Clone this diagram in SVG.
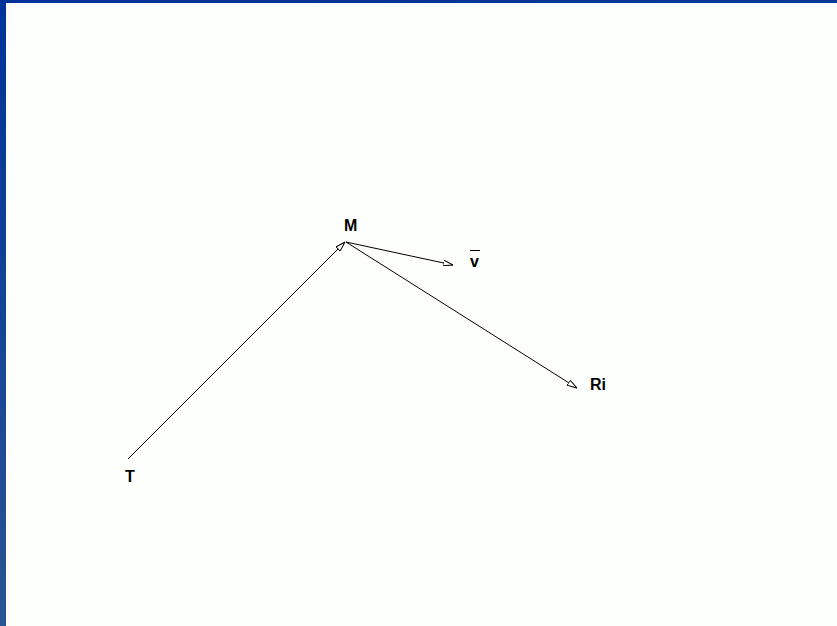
<svg xmlns="http://www.w3.org/2000/svg" width="837" height="626" viewBox="0 0 837 626">
<defs>
<linearGradient id="lg" x1="0" y1="0" x2="0" y2="1">
<stop offset="0" stop-color="#003399"/>
<stop offset="1" stop-color="#2a5593"/>
</linearGradient>
<linearGradient id="tg" x1="0" y1="0" x2="1" y2="0">
<stop offset="0" stop-color="#003399"/>
<stop offset="1" stop-color="#0a3a96"/>
</linearGradient>
<marker id="ah" viewBox="0 0 10 6" refX="10" refY="3" markerWidth="10" markerHeight="6" markerUnits="userSpaceOnUse" orient="auto">
<path d="M0,0 L10,3 L0,6 Z" fill="#fff" stroke="#000" stroke-width="1"/>
</marker>
<style>
.lbl{font-family:"Liberation Sans",Arial,sans-serif;font-weight:bold;font-size:16px;fill:#000}
.ln{stroke:#000;stroke-width:1;fill:none;marker-end:url(#ah)}
</style>
</defs>
<rect width="837" height="626" fill="#fcfffc"/>
<rect x="0" y="0" width="837" height="3" fill="url(#tg)"/>
<rect x="0" y="0" width="6" height="626" fill="url(#lg)"/>
<g id="connectors">
<line class="ln" x1="128" y1="459" x2="345" y2="242"/>
<line class="ln" x1="346" y1="242" x2="453" y2="265"/>
<line class="ln" x1="346" y1="242" x2="577" y2="388"/>
</g>
<g id="node-M"><text class="lbl" x="344" y="231">M</text></g>
<g id="node-v"><text class="lbl" x="470" y="267">v</text><line x1="470" y1="250.5" x2="480" y2="250.5" stroke="#000" stroke-width="1"/></g>
<g id="node-Ri"><text class="lbl" x="590" y="390">Ri</text></g>
<g id="node-T"><text class="lbl" x="125" y="482">T</text></g>
</svg>
